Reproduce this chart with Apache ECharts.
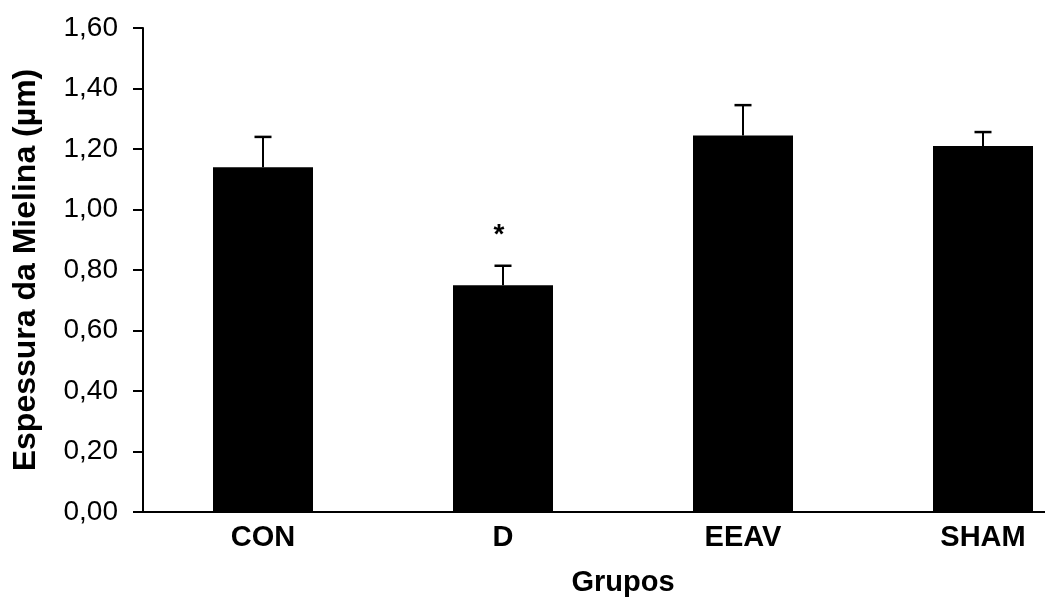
<!DOCTYPE html>
<html>
<head>
<meta charset="utf-8">
<script src="https://cdn.jsdelivr.net/npm/echarts@6/dist/echarts.min.js"></script>
<style>
html,body{margin:0;padding:0;background:#fff;}
#chart{width:1045px;height:599px;}
</style>
</head>
<body>
<div id="chart"></div>
<script>
var categories = ['CON', 'D', 'EEAV', 'SHAM'];
var means = [1.14, 0.75, 1.245, 1.21];
var errors = [0.10, 0.064, 0.10, 0.046];
var marks = ['', '*', '', ''];
var yTicks = { min: 0, max: 1.6, interval: 0.2 };

var FONT = '"Liberation Sans", Arial, sans-serif';
var chart = echarts.init(document.getElementById('chart'), null, {renderer: 'canvas'});

var errData = categories.map(function (c, i) { return [i, means[i], means[i] + errors[i], marks[i]]; });

chart.setOption({
  animation: false,
  backgroundColor: '#fff',
  grid: { left: 143, top: 28, width: 960, height: 484, containLabel: false, outerBoundsMode: 'none' },
  xAxis: {
    type: 'category',
    data: categories,
    name: 'Grupos',
    nameLocation: 'middle',
    nameGap: 56,
    nameTextStyle: { fontFamily: FONT, fontWeight: 'bold', fontSize: 29, color: '#000' },
    axisLine: { lineStyle: { color: '#000', width: 2 } },
    axisTick: { show: false },
    axisLabel: { margin: 11, fontFamily: FONT, fontWeight: 'bold', fontSize: 29, color: '#000' },
    splitLine: { show: false }
  },
  yAxis: {
    type: 'value',
    min: yTicks.min, max: yTicks.max, interval: yTicks.interval,
    name: 'Espessura da Mielina (µm)',
    nameLocation: 'middle',
    nameGap: 101,
    nameTextStyle: { fontFamily: FONT, fontWeight: 'bold', fontSize: 32, color: '#000' },
    axisLine: { show: true, lineStyle: { color: '#000', width: 2 } },
    axisTick: { show: true, inside: false, length: 10, lineStyle: { color: '#000', width: 2 } },
    axisLabel: {
      margin: 25, fontFamily: FONT, fontSize: 28, color: '#000',
      formatter: function (v) { return v.toFixed(2).replace('.', ','); }
    },
    splitLine: { show: false }
  },
  series: [
    {
      type: 'bar',
      data: means,
      barWidth: 100,
      itemStyle: { color: '#000' },
      silent: true
    },
    {
      type: 'custom',
      data: errData,
      z: 3,
      renderItem: function (params, api) {
        var x = api.value(0);
        var base = api.coord([x, api.value(1)]);
        var top = api.coord([x, api.value(2)]);
        var half = 8.5;
        var children = [
          { type: 'line', shape: { x1: base[0], y1: base[1], x2: top[0], y2: top[1] }, style: { stroke: '#000', lineWidth: 2 } },
          { type: 'line', shape: { x1: top[0] - half, y1: top[1], x2: top[0] + half, y2: top[1] }, style: { stroke: '#000', lineWidth: 2.5 } }
        ];
        var m = api.value(3);
        if (m) {
          children.push({ type: 'text', style: { text: m, x: top[0] - 4, y: top[1] - 16, textAlign: 'center', textVerticalAlign: 'bottom', font: 'bold 28px ' + FONT, fill: '#000' } });
        }
        return { type: 'group', children: children };
      }
    }
  ]
});
</script>
</body>
</html>
